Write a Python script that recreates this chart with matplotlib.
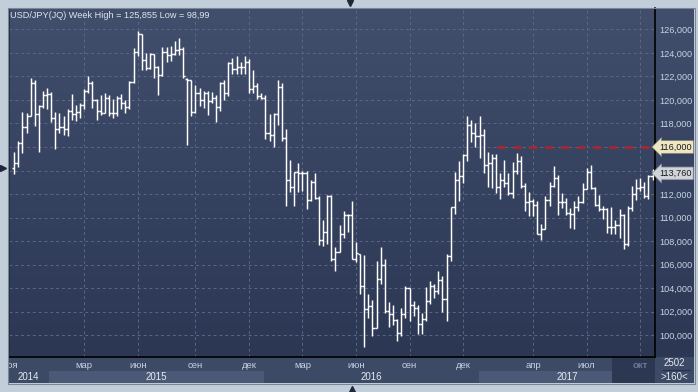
import numpy as np
import pandas as pd
import matplotlib
matplotlib.use("Agg")
import matplotlib.pyplot as plt
from matplotlib.colors import LinearSegmentedColormap

plt.rcParams['font.family'] = ['Liberation Sans', 'DejaVu Sans']

# weekly USD/JPY bars, one per week starting on Monday
first_week = "2014-11-03"

opens = [114.2, 114.6, 116.3, 117.7, 118.6, 121.4, 118.8, 119.5, 120.4, 120.5,
         118.5, 117.5, 117.7, 117.5, 119.1, 118.8, 119.0, 119.6, 120.8, 121.4,
         120.0, 119.1, 118.9, 120.2, 118.9, 118.9, 120.2, 119.7, 119.4, 121.5,
         124.1, 125.6, 123.4, 122.7, 123.9, 122.8, 122.1, 124.1, 123.8, 123.9,
         124.2, 124.3, 121.8, 121.7, 119.0, 120.6, 120.0, 120.6, 119.9, 120.2,
         119.4, 121.4, 120.6, 123.1, 122.6, 122.8, 122.8, 123.2, 120.9, 121.2,
         120.3, 120.2, 117.2, 117.0, 118.8, 121.1, 116.8, 113.2, 112.6, 113.9,
         113.8, 113.8, 111.5, 113.0, 111.7, 108.1, 108.8, 111.8, 106.5, 107.1,
         108.6, 110.2, 110.2, 106.5, 106.9, 104.2, 102.2, 102.5, 100.6, 104.8,
         106.0, 102.1, 101.8, 101.3, 100.2, 101.8, 104.0, 102.6, 102.3, 101.0,
         101.4, 102.9, 104.2, 103.8, 104.7, 103.1, 106.7, 110.9, 113.2, 113.5,
         115.3, 117.9, 117.2, 116.9, 117.0, 114.5, 114.6, 115.1, 112.6, 113.2,
         112.9, 112.1, 114.0, 114.8, 112.7, 111.3, 111.4, 111.1, 108.6, 109.0,
         111.5, 112.7, 113.4, 111.3, 111.3, 110.4, 110.3, 110.9, 111.3, 112.4,
         113.9, 112.5, 111.1, 110.7, 110.7, 109.2, 109.2, 109.4, 110.2, 107.8,
         110.8, 112.0, 112.5, 112.6, 111.8, 113.5]
highs = [115.6, 116.5, 118.98, 118.9, 121.85, 121.7, 119.6, 120.8, 121.0, 120.7,
         119.0, 118.9, 118.6, 119.2, 120.5, 119.6, 119.7, 120.9, 122.0, 121.6,
         120.1, 120.4, 120.6, 120.4, 120.1, 120.3, 120.5, 120.0, 121.6, 124.4,
         125.86, 125.6, 124.0, 124.0, 123.9, 122.9, 124.5, 124.5, 124.6, 125.0,
         125.3, 124.5, 121.9, 121.7, 121.3, 121.0, 120.8, 120.8, 120.7, 120.4,
         121.5, 121.7, 123.2, 123.6, 123.7, 123.2, 123.7, 123.5, 122.5, 121.4,
         120.6, 120.4, 118.8, 118.9, 121.7, 121.4, 117.5, 114.9, 113.9, 114.6,
         114.0, 114.0, 113.2, 113.8, 111.8, 109.8, 111.9, 111.9, 107.5, 109.4,
         110.6, 110.3, 111.4, 107.9, 106.9, 106.8, 103.5, 103.0, 106.3, 107.5,
         106.5, 102.8, 102.6, 101.4, 102.3, 104.2, 104.0, 102.9, 102.6, 101.9,
         104.1, 104.6, 104.4, 105.5, 105.0, 106.9, 110.9, 113.9, 114.8, 115.4,
         118.66, 118.3, 118.0, 118.6, 117.5, 115.6, 115.4, 115.4, 113.8, 114.9,
         113.8, 114.7, 115.5, 115.2, 112.9, 112.2, 111.6, 111.4, 109.5, 111.8,
         113.0, 114.4, 113.6, 112.1, 111.7, 110.8, 111.4, 111.8, 112.9, 114.2,
         114.5, 112.6, 111.9, 111.0, 110.8, 110.9, 109.8, 110.7, 110.3, 111.0,
         112.7, 113.3, 113.4, 113.0, 113.6, 114.1]
lows = [113.7, 114.3, 115.5, 117.2, 118.6, 117.8, 115.6, 119.3, 119.2, 118.1,
        115.85, 117.2, 117.0, 116.9, 118.3, 118.2, 118.5, 119.2, 120.6, 119.3,
        118.3, 118.7, 118.9, 118.6, 118.5, 118.6, 119.2, 118.9, 119.2, 121.4,
        123.7, 122.5, 122.5, 122.6, 121.9, 120.4, 122.0, 123.2, 123.3, 123.8,
        123.8, 121.9, 116.15, 118.6, 118.9, 119.5, 119.3, 118.7, 119.7, 118.1,
        119.1, 120.0, 120.3, 122.2, 122.2, 122.2, 122.2, 120.6, 120.6, 120.1,
        120.1, 116.7, 116.5, 115.98, 117.9, 116.5, 110.98, 112.2, 111.0, 112.2,
        112.3, 110.7, 111.4, 111.6, 107.7, 107.6, 107.8, 106.3, 105.5, 107.1,
        108.3, 108.8, 106.5, 106.2, 103.5, 99.0, 101.5, 99.97, 100.6, 104.4,
        101.9, 100.7, 100.9, 99.55, 99.9, 101.5, 101.2, 101.6, 100.1, 100.1,
        101.2, 102.7, 103.2, 103.5, 101.95, 101.2, 106.3, 110.3, 111.4, 112.9,
        114.8, 116.4, 116.0, 115.1, 113.8, 112.6, 112.5, 112.1, 111.6, 112.6,
        111.9, 111.7, 113.7, 112.5, 110.6, 110.1, 110.1, 108.6, 108.1, 109.0,
        111.0, 112.6, 110.2, 110.8, 110.2, 109.1, 109.0, 110.6, 111.2, 112.4,
        112.4, 111.0, 110.6, 109.9, 108.7, 108.6, 108.6, 108.3, 107.3, 107.6,
        110.6, 111.5, 112.3, 111.7, 111.6, 113.2]
closes = [114.6, 116.3, 117.7, 118.6, 121.4, 118.8, 119.5, 120.4, 120.5, 118.5,
          117.5, 117.7, 117.5, 119.1, 118.8, 119.0, 119.6, 120.8, 121.4, 120.0,
          119.1, 118.9, 120.2, 118.9, 118.9, 120.2, 119.7, 119.4, 121.5, 124.1,
          125.6, 123.4, 122.7, 123.9, 122.8, 122.1, 124.1, 123.8, 123.9, 124.2,
          124.3, 122.0, 121.7, 119.0, 120.6, 120.0, 120.6, 119.9, 120.2, 119.4,
          121.4, 120.6, 123.1, 122.6, 122.8, 122.8, 123.2, 120.9, 121.2, 120.3,
          120.2, 117.2, 117.0, 118.8, 121.1, 116.8, 113.2, 112.6, 113.9, 113.8,
          113.8, 111.5, 113.0, 111.7, 108.1, 108.8, 111.8, 106.5, 107.1, 108.6,
          110.2, 110.2, 106.5, 107.0, 104.2, 102.2, 102.5, 100.6, 104.8, 106.0,
          102.1, 101.8, 101.3, 100.2, 101.8, 104.0, 102.6, 102.3, 101.0, 101.4,
          102.9, 104.2, 103.8, 104.7, 103.1, 106.7, 110.9, 113.2, 113.5, 115.3,
          117.9, 117.2, 116.9, 117.0, 114.5, 114.6, 115.1, 112.6, 113.2, 112.9,
          112.1, 114.0, 114.8, 112.7, 111.3, 111.4, 111.1, 108.6, 109.0, 111.5,
          112.7, 113.4, 111.3, 111.3, 110.4, 110.3, 110.9, 111.3, 112.4, 113.9,
          112.5, 111.1, 110.7, 110.7, 109.2, 109.2, 109.4, 110.2, 107.8, 110.8,
          112.0, 112.5, 112.6, 111.8, 113.5, 113.76]

month_ticks = ["2015-03", "2015-06", "2015-09", "2015-12", "2016-03", "2016-06",
               "2016-09", "2016-12", "2017-04", "2017-07", "2017-10"]
month_names = ["мар", "июн", "сен", "дек", "мар", "июн", "сен", "дек", "апр", "июл", "окт"]
years = [2014, 2015, 2016, 2017]
price_ticks = list(range(100, 127, 2))
level = 116.0
level_from = "2017-02-01"
last_price = 113.76
view_from = "2017-08-15"
title = "USD/JPY(JQ) Week High = 125,855 Low = 98,99"

weeks = pd.date_range(first_week, periods=len(closes), freq="7D")
idx = np.arange(len(closes))


def pos(date):
    return (pd.Timestamp(date) - weeks[0]).days / 7


def price_fmt(v):
    return f"{v:.3f}".replace(".", ",")


W, H = 698, 392
fig = plt.figure(figsize=(W / 100, H / 100), dpi=100, facecolor="#c3cedb")


def px(x0, y0, x1, y1):
    return [x0 / W, 1 - y1 / H, (x1 - x0) / W, (y1 - y0) / H]


# dark gradient behind chart and price scale
bg = fig.add_axes(px(8, 8, 694, 357), zorder=0)
cmap = LinearSegmentedColormap.from_list("bg", ["#414e6c", "#2b3753"])
bg.imshow(np.linspace(0, 1, 256).reshape(-1, 1), aspect="auto", cmap=cmap,
          extent=[0, 1, 0, 1])
bg.axis("off")

ax = fig.add_axes(px(8.5, 8, 655, 356.5), zorder=2)
ax.patch.set_alpha(0)
xmin, xmax = -1.38, 155.6
ax.set_xlim(xmin, xmax)
ax.set_ylim(98.2, 127.81)

grid_kw = dict(color="#5a6785", lw=0.7, ls=(0, (3, 3)), zorder=0)
for v in price_ticks:
    ax.axhline(v, **grid_kw)
month_pos = [int(np.searchsorted(weeks, pd.Timestamp(m))) for m in month_ticks]
for p in month_pos:
    ax.axvline(p, **grid_kw)

# OHLC bars
ax.vlines(idx, lows, highs, color="white", lw=1.05, zorder=2)
ax.hlines(opens, idx - 0.5, idx, color="white", lw=1.05, zorder=2)
ax.hlines(closes, idx, idx + 0.5, color="white", lw=1.05, zorder=2)

ax.hlines(level, pos(level_from), xmax, color="#b3232c", lw=1.8,
          linestyles=(0, (3.2, 3.2)), zorder=1)

# price scale: the two tags take the place of the labels they cover
ax.set_xticks([])
ax.yaxis.tick_right()
ax.set_yticks(price_ticks)
ax.set_yticklabels(["" if abs(v - level) < 1 or abs(v - last_price) < 1 else price_fmt(v)
                    for v in price_ticks])
ax.tick_params(axis="y", length=0, pad=3, labelsize=6.6, labelcolor="#c9d3e3")
for s in ["top", "left"]:
    ax.spines[s].set_color("#1e2638")
    ax.spines[s].set_linewidth(0.6)
for s in ["bottom", "right"]:
    ax.spines[s].set_color("black")
    ax.spines[s].set_linewidth(1.2)

tag_kw = dict(transform=ax.get_yaxis_transform(), ha="left", va="center",
              fontsize=6.6, color="#1b1b1b", clip_on=False, zorder=5)
ax.text(1.006, level, price_fmt(level),
        bbox=dict(boxstyle="larrow,pad=0.2", fc="#efe6c3", ec="#8e8a78", lw=0.5), **tag_kw)
ax.text(1.006, last_price, price_fmt(last_price),
        bbox=dict(boxstyle="larrow,pad=0.2", fc="#cfd3da", ec="#8a8f98", lw=0.5), **tag_kw)

# time scale under the chart
bx = fig.add_axes(px(8.5, 357, 655, 383), zorder=1)
bx.set_xlim(xmin, xmax)
bx.set_ylim(0, 26)
bx.set_facecolor("#3d4a66")
bx.set_xticks([])
bx.set_yticks([])
for s in bx.spines.values():
    s.set_visible(False)
bounds = [xmin] + [pos(f"{y}-01-01") for y in years[1:]] + [xmax]
for i, y in enumerate(years):
    if i % 2 == 1:
        bx.axvspan(bounds[i], bounds[i + 1], ymin=0, ymax=12 / 26, color="#4b5976", lw=0)
bx.axvspan(pos(view_from), xmax, color="#2c3752", lw=0)
for i, y in enumerate(years):
    bx.text((bounds[i] + bounds[i + 1]) / 2, 6, str(y), ha="center", va="center",
            fontsize=7, color="#e6ebf2", clip_on=True)
for p, name in zip(month_pos, month_names):
    dim = p >= pos(view_from)
    bx.text(p, 17.5, name, ha="center", va="center", fontsize=6.8,
            color="#6d7891" if dim else "#c6d0e0",
            fontweight="bold" if dim else "normal", clip_on=True)
bx.text(pos("2014-10-27"), 17.5, "ноя", ha="center", va="center", fontsize=6.8,
        color="#c6d0e0", clip_on=True)

# bars count box
cx = fig.add_axes(px(655, 357, 694, 383), zorder=1)
cx.set_facecolor("#3d4a66")
cx.set_xlim(0, 1)
cx.set_ylim(0, 1)
cx.set_xticks([])
cx.set_yticks([])
for s in cx.spines.values():
    s.set_visible(False)
cx.text(0.5, 0.78, "2502", ha="center", va="center", fontsize=7, color="#e4e9f0")
cx.plot([0.2, 0.9], [0.5, 0.5], color="#26304a", lw=0.8)
cx.text(0.5, 0.25, ">160<", ha="center", va="center", fontsize=7, color="#e4e9f0")

fig.text(10 / W, 1 - 15 / H, title, fontsize=6.6, color="#dfe5ef", va="center",
         ha="left", zorder=6)

# frame and small scroll arrows
ov = fig.add_axes([0, 0, 1, 1], zorder=7)
ov.patch.set_alpha(0)
ov.set_xlim(0, W)
ov.set_ylim(H, 0)
ov.axis("off")
ov.add_patch(plt.Rectangle((7.5, 7.5), 687, 376, fill=False, ec="#7b8698", lw=0.8))
ov.plot([350], [3], marker="v", color="#1f2738", ms=5)
ov.plot([3], [168], marker=">", color="#1f2738", ms=5)
ov.plot([352], [389], marker="^", color="#1f2738", ms=5)

fig.savefig("out.png", dpi=100, facecolor=fig.get_facecolor())
